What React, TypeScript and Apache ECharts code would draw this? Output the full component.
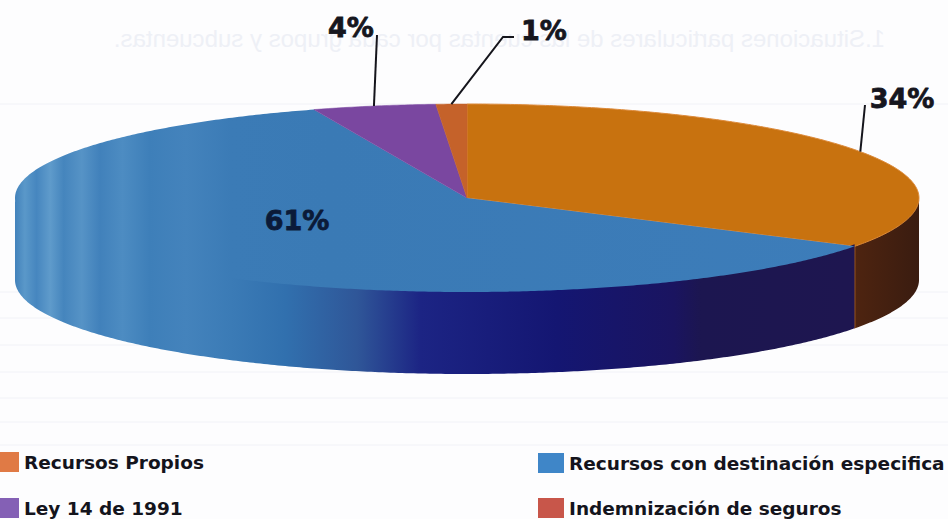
import React, { useEffect, useRef } from "react";
import * as echarts from "echarts";

const categories = ["Recursos Propios", "Recursos con destinación especifica", "Ley 14 de 1991", "Indemnización de seguros"];
// clockwise from 12 o'clock; each rounds to the printed percentage
const sliceOrder = [0, 1, 2, 3];
const values = [33.6, 60.9, 4.4, 1.1];
const legendColors = ["#e07a45", "#3f86c8", "#8460b5", "#c8564a"];
const ghostTitle = "1.Situaciones particulares de las cuentas por cada grupos y subcuentas.";

const CX = 467, CY = 198, RX = 452, RY = 94, DEPTH = 82;

const grad = (stops: [number, string][]) => ({
  type: "linear", x: 14, y: 0, x2: 918, y2: 0, global: true,
  colorStops: stops.map(([offset, color]) => ({ offset, color })),
});

const blueLeft: [number, string][] = [
  [0, "#4080ba"], [0.012, "#5a98c9"], [0.025, "#4686bf"], [0.04, "#5f9bcb"], [0.055, "#4585bd"],
  [0.075, "#5693c6"], [0.095, "#4181bb"], [0.12, "#4d8cc2"], [0.15, "#3e7fb9"], [0.19, "#4483bc"], [0.24, "#3b7bb6"],
];

const topFills: any[] = [
  "#c8720f",
  grad([...blueLeft, [0.35, "#3a7ab5"], [1, "#3d7dba"]]),
  "#7a47a0",
  "#c5622a",
];
const wallFills: any[] = [
  grad([[0.93, "#4e2410"], [1, "#3a1c10"]]),
  grad([...blueLeft, [0.3, "#3170ae"], [0.38, "#2f5698"], [0.45, "#1c2484"], [0.6, "#141672"], [0.73, "#1a1460"], [0.76, "#1c1650"], [1, "#1f1650"]]),
  "#5a3080",
  "#8a3c18",
];
const labelPos: [number, number][] = [[902, 98], [297, 220], [351, 27], [544, 30]];
const leaderElbows: [number, number][][] = [[[865, 105]], [], [[377, 35]], [[503, 37], [514, 37]]];

const pt = (deg: number, y0 = CY): [number, number] => {
  const r = (deg * Math.PI) / 180;
  return [CX + RX * Math.sin(r), y0 - RY * Math.cos(r)];
};
const arc = (a0: number, a1: number, y0 = CY) => {
  const out: [number, number][] = [];
  const n = Math.max(2, Math.ceil(Math.abs(a1 - a0) * 2));
  for (let i = 0; i <= n; i++) out.push(pt(a0 + ((a1 - a0) * i) / n, y0));
  return out;
};

const total = values.reduce((a, b) => a + b, 0);

const renderSlice = (index: number) => (_p: any, api: any) => {
  const before = values.slice(0, sliceOrder[index]).reduce((a, b) => a + b, 0);
  const v = api.value(0);
  const a0 = (before / total) * 360;
  const a1 = ((before + v) / total) * 360;
  const children: any[] = [];
  const wa0 = Math.max(a0, 90), wa1 = Math.min(a1, 270);
  if (wa1 > wa0) {
    const top = arc(wa0, wa1, CY - 2);
    const bottom = arc(wa1, wa0, CY + DEPTH);
    children.push({
      type: "polygon", shape: { points: [...top, ...bottom] },
      style: { fill: wallFills[index] },
    });
  }
  if (index === 0) {
    const [x, y] = pt(a1);
    children.push({
      type: "line", shape: { x1: x, y1: y, x2: x, y2: y + DEPTH },
      style: { stroke: "#b5651a", lineWidth: 1.5 },
    });
  }
  children.push({
    type: "polygon", shape: { points: [[CX, CY], ...arc(a0, a1)] },
    style: index === 1
      ? { fill: topFills[index] }
      : { fill: topFills[index], stroke: index === 0 ? "#dd8a3a" : topFills[index], lineWidth: index === 0 ? 1 : 0.5 },
  });
  if (leaderElbows[index].length) {
    children.push({
      type: "polyline", shape: { points: [pt((a0 + a1) / 2), ...leaderElbows[index]] },
      style: { stroke: "#15151c", lineWidth: 2, fill: null },
    });
  }
  const ink = index === 1 ? "#0b1a38" : "#16161e";
  children.push({
    type: "text",
    style: {
      text: `${Math.round(v)}%`, x: labelPos[index][0], y: labelPos[index][1],
      fill: ink, stroke: ink, lineWidth: 0.8,
      font: 'bold 27px "DejaVu Sans"', textAlign: "center", textVerticalAlign: "middle",
    },
  });
  return { type: "group", children };
};

const legendPos = [
  { left: 0, top: 452 },
  { left: 538, top: 453 },
  { left: 0, top: 498 },
  { left: 538, top: 498 },
];

export default function App() {
  const ref = useRef<HTMLDivElement>(null);
  useEffect(() => {
    const chart = echarts.init(ref.current!, null, { renderer: "svg" });
    chart.setOption({
      animation: false,
      backgroundColor: "#fdfdfe",
      graphic: [
        { type: "text", x: 885, y: 38, scaleX: -1, z: 0, style: { text: ghostTitle, fill: "#eef0f6", font: '24px "Liberation Sans"', textVerticalAlign: "middle" } },
        ...[104, 292, 318, 345, 372, 398, 422, 445].map((y) => ({
          type: "line", z: 0, shape: { x1: 0, y1: y, x2: 948, y2: y }, style: { stroke: "#f1f2f7", lineWidth: 1 },
        })),
      ],
      legend: categories.map((c, i) => ({
        data: [c], ...legendPos[i], padding: 0, orient: "horizontal",
        icon: "rect", itemWidth: i % 2 ? 26 : 19, itemHeight: 20,
        textStyle: { fontFamily: "DejaVu Sans", fontWeight: "bold", fontSize: 18.5, color: "#14141c" },
        selectedMode: false,
      })),
      series: categories.map((c, i) => ({
        type: "custom", name: c, coordinateSystem: "none",
        itemStyle: { color: legendColors[i] },
        data: [[values[i]]], renderItem: renderSlice(i), silent: true, clip: false,
      })),
    });
    return () => chart.dispose();
  }, []);
  return <div ref={ref} style={{ position: "fixed", left: 0, top: 0, width: 948, height: 519 }} />;
}
